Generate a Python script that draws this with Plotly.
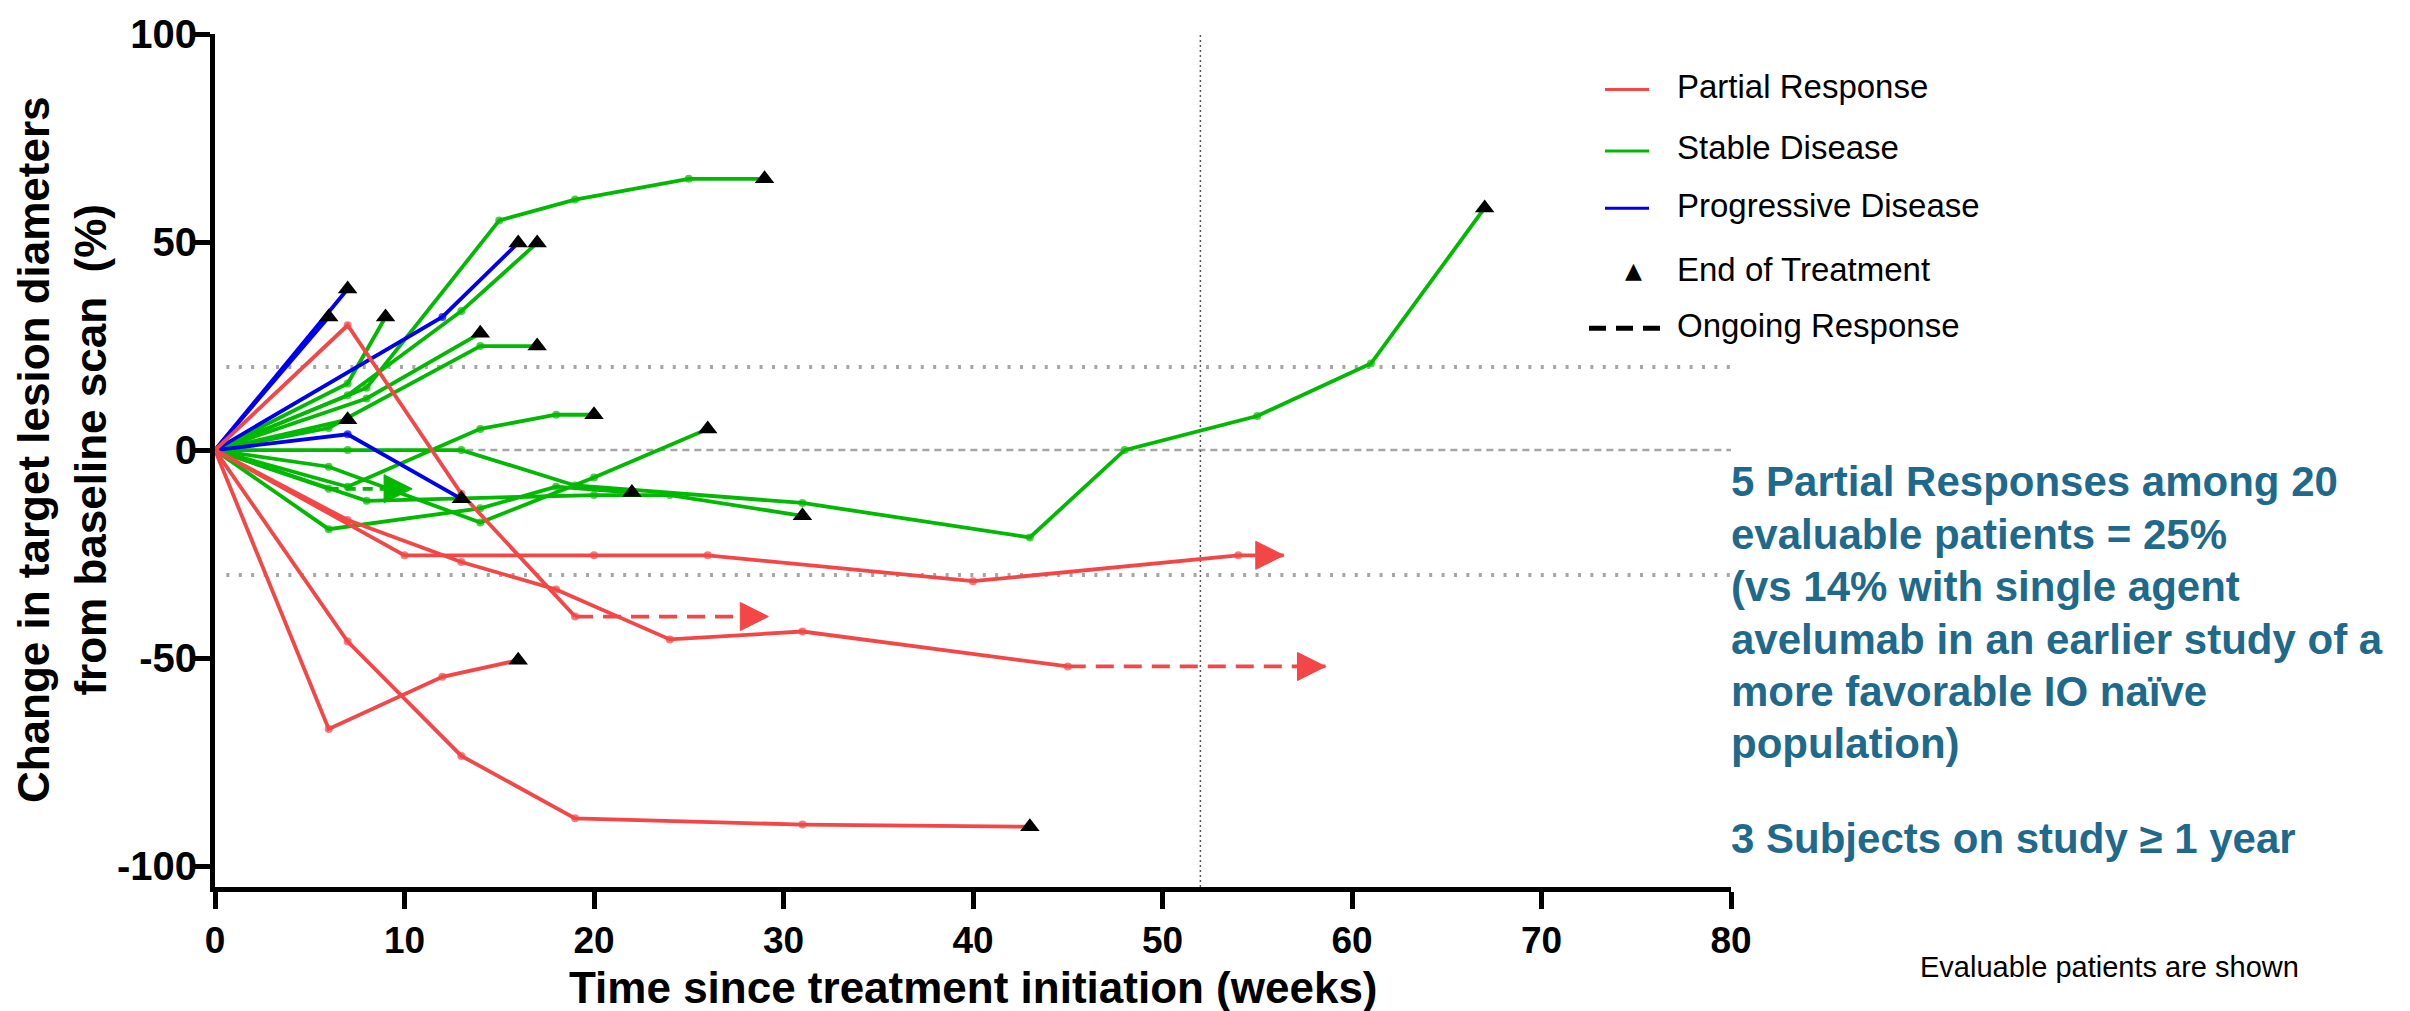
import plotly.graph_objects as go

# ---------------- data (weeks since treatment start, % change) ----------------
pr_weeks = [[0, 7, 13, 19], [0, 6, 12, 16], [0, 7, 13, 19, 31, 43],
            [0, 10, 20, 26, 40, 54], [0, 7, 13, 18, 24, 31, 45]]
pr_change = [[0, 30, -10.5, -40], [0, -67, -54.5, -50.5], [0, -46, -73.5, -88.5, -90, -90.5],
             [0, -25.3, -25.3, -25.3, -31.5, -25.3], [0, -16.8, -26.9, -33.5, -45.5, -43.6, -52]]
pr_end = ["ongoing", "eot", "eot", "ongoing", "ongoing"]
pr_ongoing_until = [29.2, None, None, 56.4, 58.6]

pd_weeks = [[0, 7], [0, 6], [0, 12, 16], [0, 7, 13]]
pd_change = [[0, 38.7], [0, 32], [0, 32, 49.8], [0, 3.8, -11.7]]
pd_end = ["eot", "eot", "eot", "eot"]
pd_ongoing_until = [None, None, None, None]

sd_weeks = [[0, 8, 15, 19, 25, 29], [0, 7, 13, 17], [0, 7, 9], [0, 8, 14], [0, 6, 14, 17],
            [0, 7], [0, 7, 14, 18, 20], [0, 7, 13, 19, 31, 43, 48, 55, 61, 67],
            [0, 6, 14, 20, 26], [0, 6, 14, 18, 22], [0, 8, 20, 24, 31], [0, 6]]
sd_change = [[0, 15, 55.2, 60.2, 65.2, 65.2], [0, 13.2, 33.4, 49.8], [0, 16, 32], [0, 12.4, 28.1],
             [0, 5.3, 25, 25], [0, 7.3], [0, -8.8, 5.1, 8.5, 8.5],
             [0, 0, 0, -8.5, -12.7, -21, 0, 8.2, 20.8, 58.2],
             [0, -4, -17.4, -6.6, 5.1], [0, -19, -14, -8.8, -10.2], [0, -12.2, -10.8, -10.8, -15.8],
             [0, -9.3]]
sd_end = ["eot"] * 11 + ["ongoing"]
sd_ongoing_until = [None] * 11 + [10.4]

legend_labels = ["Partial Response", "Stable Disease", "Progressive Disease",
                 "End of Treatment", "Ongoing Response"]
ref_upper = 20        # progression threshold
ref_lower = -30       # response threshold
ref_zero = 0
one_year_week = 52
x_ticks = [0, 10, 20, 30, 40, 50, 60, 70, 80]
y_ticks = [-100, -50, 0, 50, 100]
y_tick_text = ["-100", "-50", "0", "50", "100"]

note_lines = ["5 Partial Responses among 20", "evaluable patients = 25%",
              "(vs 14% with single agent", "avelumab in an earlier study of a",
              "more favorable IO naïve", "population)", "3 Subjects on study ≥ 1 year"]
footnote = "Evaluable patients are shown"

# ---------------- styling ----------------
RED = "#F44646"
GREEN = "#00B900"
BLUE = "#0000F0"
NOTE = "#1F6A8C"
FONT = "Liberation Sans"

W, H = 2410, 1011
L, R, T, B = 215, 679, 26, 124
PW, PH = W - L - R, H - T - B


def px_x(X):
    return (X - L) / PW


def px_y(Y):
    return (H - B - Y) / PH


fig = go.Figure()

groups = [
    (sd_weeks, sd_change, sd_end, sd_ongoing_until, GREEN, "10px,7px"),
    (pd_weeks, pd_change, pd_end, pd_ongoing_until, BLUE, "18px,10px"),
    (pr_weeks, pr_change, pr_end, pr_ongoing_until, RED, "18px,10px"),
]

LW = 3.8
eot_x, eot_y = [], []
for weeks, change, ends, until, color, dash in groups:
    for wk, ch, end, ut in zip(weeks, change, ends, until):
        n = len(wk)
        sizes = [8] * n
        if end == "eot":
            sizes[-1] = 0
            eot_x.append(wk[-1])
            eot_y.append(ch[-1])
        fig.add_trace(go.Scatter(
            x=wk, y=ch, mode="lines+markers",
            line=dict(color=color, width=LW),
            marker=dict(size=sizes, color=color, line=dict(width=0)),
            showlegend=False, hoverinfo="skip", cliponaxis=False))
        if end == "ongoing":
            fig.add_trace(go.Scatter(
                x=[wk[-1], ut], y=[ch[-1], ch[-1]], mode="lines",
                line=dict(color=color, width=LW, dash=dash),
                showlegend=False, hoverinfo="skip", cliponaxis=False))
            fig.add_trace(go.Scatter(
                x=[ut], y=[ch[-1]], mode="markers",
                marker=dict(symbol="arrow-right", size=28, color=color, opacity=1,
                            line=dict(width=1, color=color)),
                showlegend=False, hoverinfo="skip", cliponaxis=False))

fig.add_trace(go.Scatter(
    x=eot_x, y=eot_y, mode="markers",
    marker=dict(symbol="triangle-up", size=17, color="black", line=dict(width=0)),
    showlegend=False, hoverinfo="skip", cliponaxis=False))

shapes = []
for yv in (ref_upper, ref_lower):
    shapes.append(dict(type="line", xref="x", yref="y", x0=0.6, x1=80, y0=yv, y1=yv,
                       line=dict(color="#A6A6A6", width=4, dash="3px,9.4px"), layer="below"))
shapes.append(dict(type="line", xref="x", yref="y", x0=0.6, x1=80, y0=ref_zero, y1=ref_zero,
                   line=dict(color="#A6A6A6", width=2.5, dash="7px,5px"), layer="below"))
shapes.append(dict(type="line", xref="x", yref="y", x0=one_year_week, x1=one_year_week,
                   y0=-105, y1=100,
                   line=dict(color="#555555", width=1.5, dash="2px,3px"), layer="below"))

# legend (drawn manually)
leg_y = [82, 144, 202, 267, 323]
leg_colors = [RED, GREEN, BLUE]
for i, c in enumerate(leg_colors):
    shapes.append(dict(type="line", xref="paper", yref="paper",
                       x0=px_x(1605), x1=px_x(1649), y0=px_y(leg_y[i]), y1=px_y(leg_y[i]),
                       line=dict(color=c, width=3)))
shapes.append(dict(type="line", xref="paper", yref="paper",
                   x0=px_x(1589), x1=px_x(1664), y0=px_y(leg_y[4]), y1=px_y(leg_y[4]),
                   line=dict(color="black", width=5, dash="17px,10px")))

annotations = []
for i, lab in enumerate(legend_labels):
    annotations.append(dict(text=lab, xref="paper", yref="paper", x=px_x(1675), y=px_y(leg_y[i] - 3),
                            xanchor="left", yanchor="middle", showarrow=False,
                            font=dict(family=FONT, size=33, color="black")))
annotations.append(dict(text="▲", xref="paper", yref="paper", x=px_x(1633), y=px_y(leg_y[3] - 2),
                        xanchor="center", yanchor="middle", showarrow=False,
                        font=dict(family="DejaVu Sans", size=22, color="black")))

annotations.append(dict(text="Change in target lesion diameters<br>from baseline scan\u00a0 (%)",
                        xref="paper", yref="paper", x=px_x(62), y=px_y(446), textangle=-90,
                        xanchor="center", yanchor="middle", showarrow=False,
                        font=dict(family=FONT, size=44, color="black", weight="bold")))
annotations.append(dict(text="Time since treatment initiation (weeks)",
                        xref="paper", yref="paper", x=0.5, y=px_y(988),
                        xanchor="center", yanchor="middle", showarrow=False,
                        font=dict(family=FONT, size=44, color="black", weight="bold")))
note_y = [478, 531, 584, 637, 690, 742, 838]
for txt, yy in zip(note_lines, note_y):
    annotations.append(dict(text=txt, xref="paper", yref="paper", x=px_x(1729), y=px_y(yy),
                            xanchor="left", yanchor="middle", align="left", showarrow=False,
                            font=dict(family=FONT, size=42, color=NOTE, weight="bold")))
annotations.append(dict(text=footnote, xref="paper", yref="paper", x=px_x(2109), y=px_y(968),
                        xanchor="center", yanchor="middle", showarrow=False,
                        font=dict(family=FONT, size=29, color="black")))

fig.update_layout(
    width=W, height=H, margin=dict(l=L, r=R, t=T, b=B, pad=0),
    paper_bgcolor="white", plot_bgcolor="white",
    showlegend=False, shapes=shapes, annotations=annotations,
    xaxis=dict(range=[0, 80], tickvals=x_ticks, showgrid=False, zeroline=False,
               showline=True, linecolor="black", linewidth=5,
               ticks="outside", ticklen=17, tickwidth=5, tickcolor="black",
               tickfont=dict(family=FONT, size=37, color="black", weight="bold")),
    yaxis=dict(range=[-105, 100], tickvals=y_ticks, ticktext=y_tick_text,
               showgrid=False, zeroline=False,
               showline=True, linecolor="black", linewidth=5,
               ticks="outside", ticklen=17, tickwidth=5, tickcolor="black",
               ticklabelstandoff=-12,
               tickfont=dict(family=FONT, size=40, color="black", weight="bold")),
)

fig.write_html("out.html")
